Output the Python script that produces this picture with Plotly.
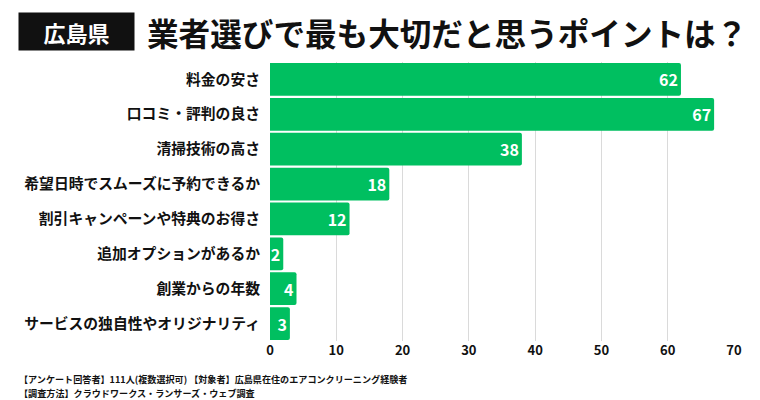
import plotly.graph_objects as go

categories = ["料金の安さ", "口コミ・評判の良さ", "清掃技術の高さ", "希望日時でスムーズに予約できるか",
              "割引キャンペーンや特典のお得さ", "追加オプションがあるか", "創業からの年数",
              "サービスの独自性やオリジナリティ"]
values = [62, 67, 38, 18, 12, 2, 4, 3]
x_ticks = [0, 10, 20, 30, 40, 50, 60, 70]
notes = ["【アンケート回答者】111人(複数選択可) 【対象者】広島県在住のエアコンクリーニング経験者",
         "【調査方法】クラウドワークス・ランサーズ・ウェブ調査"]

FONT = "Noto Sans CJK JP"
GREEN = "#00BF60"

L, R, T, B = 270, 26, 62, 59
W, H = 760, 400
pw = W - L - R
ph = H - T - B

def px(x):
    return (x - L) / pw

def py(y):
    return (H - B - y) / ph

fig = go.Figure(go.Bar(
    x=values, y=categories, orientation="h",
    marker=dict(color=GREEN, cornerradius=2, line=dict(width=0)),
    text=[str(v) for v in values], textposition="inside", insidetextanchor="end",
    constraintext="none",
    textfont=dict(family=FONT, size=16, color="white", weight="bold"),
    cliponaxis=False,
))

fig.update_layout(
    width=W, height=H, margin=dict(l=L, r=R, t=T, b=B, autoexpand=False),
    paper_bgcolor="white", plot_bgcolor="white",
    bargap=0.06, showlegend=False,
    font=dict(family=FONT, color="#111111"),
)
fig.update_xaxes(range=[0, 70], tickvals=x_ticks, showgrid=True, gridcolor="#dadada",
                 gridwidth=1, zeroline=False, showline=False, ticks="", automargin=False,
                 tickfont=dict(family=FONT, size=13, color="#111111", weight="bold"))
fig.update_yaxes(autorange="reversed", showgrid=False, ticks="", showline=False,
                 ticklabelstandoff=9, automargin=False,
                 tickfont=dict(family=FONT, size=14.8, color="#111111", weight="bold"))

fig.add_annotation(xref="paper", yref="paper", x=px(76.5), y=py(31.5),
                   xanchor="center", yanchor="middle", text="広島県", showarrow=False,
                   bgcolor="#111111", width=113, height=35,
                   font=dict(family=FONT, size=22, color="white", weight="bold"))
fig.add_annotation(xref="paper", yref="paper", x=px(145), y=py(32),
                   xanchor="left", yanchor="middle", text="業者選びで最も大切だと思うポイントは？",
                   showarrow=False,
                   font=dict(family=FONT, size=31.6, color="#111111", weight="bold"))
for i, note in enumerate(notes):
    fig.add_annotation(xref="paper", yref="paper", x=px(18), y=py(379 + 14 * i),
                       xanchor="left", yanchor="middle", align="left", showarrow=False,
                       text=note, borderpad=0,
                       font=dict(family=FONT, size=9.1, color="#111111", weight="bold"))

fig.write_html("out.html", config={"displayModeBar": False},
               post_script="document.body.style.margin='0';document.body.style.overflow='hidden';")
